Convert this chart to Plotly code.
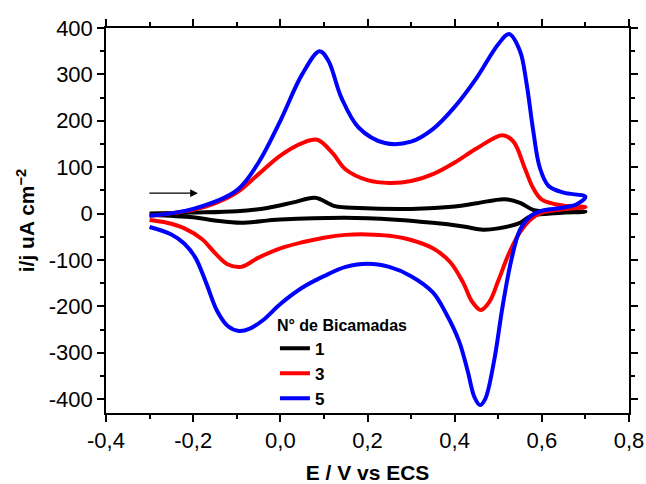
import plotly.graph_objects as go

# Cyclic voltammograms: forward (anodic) branch then reverse branch, closed loop
E1 = [-0.30, -0.20, -0.10, -0.03, 0.03, 0.08, 0.125, 0.18, 0.30, 0.40, 0.45, 0.515, 0.55, 0.58, 0.62, 0.70,
      0.62, 0.575, 0.55, 0.50, 0.465, 0.42, 0.35, 0.20, 0.00, -0.09, -0.15, -0.20, -0.30]
I1 = [0, 2, 5, 12, 24, 34, 16, 12, 10, 15, 22, 31, 23, 8, 4, 4,
      0, -5, -20, -32, -35, -28, -20, -10, -13, -20, -15, -8, -3]

E3 = [-0.30, -0.20, -0.15, -0.10, -0.05, 0.00, 0.05, 0.085, 0.12, 0.15, 0.20, 0.25, 0.30, 0.35, 0.40, 0.45,
      0.51, 0.535, 0.56, 0.58, 0.60, 0.65, 0.70,
      0.65, 0.60, 0.575, 0.55, 0.525, 0.50, 0.48, 0.46, 0.44, 0.42, 0.39, 0.35, 0.30, 0.25, 0.20, 0.15, 0.10,
      0.05, 0.00, -0.05, -0.09, -0.12, -0.15, -0.18, -0.22, -0.26, -0.30]
I3 = [-5, 8, 22, 45, 85, 125, 152, 159, 130, 95, 72, 66, 70, 85, 110, 140,
      169, 155, 100, 55, 30, 17, 14,
      9, 2, -12, -40, -85, -145, -190, -208, -190, -150, -105, -75, -57, -48, -45, -46, -52,
      -62, -75, -95, -115, -110, -85, -55, -32, -20, -14]

E5 = [-0.30, -0.20, -0.10, -0.05, 0.00, 0.05, 0.09, 0.11, 0.14, 0.18, 0.24, 0.30, 0.35, 0.40, 0.45, 0.50,
      0.525, 0.55, 0.565, 0.58, 0.595, 0.615, 0.65, 0.70,
      0.68, 0.65, 0.60, 0.575, 0.55, 0.53, 0.51, 0.49, 0.47, 0.458, 0.445, 0.43, 0.41, 0.38, 0.35, 0.30,
      0.25, 0.20, 0.15, 0.10, 0.05, 0.00, -0.04, -0.07, -0.095, -0.12, -0.145, -0.17, -0.195, -0.22,
      -0.25, -0.30]
I5 = [-5, 10, 50, 110, 200, 300, 350, 330, 250, 185, 152, 155, 182, 230, 292, 365,
      387, 350, 280, 180, 100, 60, 45, 36,
      20, 13, 6, -5, -35, -100, -200, -320, -400, -413, -395, -340, -275, -215, -170, -135,
      -115, -108, -115, -135, -160, -195, -230, -248, -253, -243, -210, -150, -95, -65,
      -45, -29]

x_ticks = [-0.4, -0.2, 0.0, 0.2, 0.4, 0.6, 0.8]
x_labels = ["-0,4", "-0,2", "0,0", "0,2", "0,4", "0,6", "0,8"]
y_ticks = [-400, -300, -200, -100, 0, 100, 200, 300, 400]
y_labels = ["-400", "-300", "-200", "-100", "0", "100", "200", "300", "400"]

series = [("1", E1, I1, "#000000"), ("3", E3, I3, "#ff0000"), ("5", E5, I5, "#0000ff")]

fig = go.Figure()
for name, e, i, c in series:
    fig.add_trace(go.Scatter(x=e, y=i, mode="lines", name="<b>" + name + "</b>",
                             line=dict(color=c, width=4, shape="spline", smoothing=1.0)))

fig.add_annotation(x=-0.189, y=44, ax=-0.304, ay=44, xref="x", yref="y", axref="x", ayref="y",
                   text="", showarrow=True, arrowhead=2, arrowsize=1.2, arrowwidth=1.3, arrowcolor="black")

FONT = "Liberation Sans, Arial"
axis_common = dict(showgrid=False, zeroline=False, showline=True, linecolor="black", linewidth=1.5,
                   mirror="ticks", ticks="outside", ticklen=7, tickwidth=1.5, tickcolor="black",
                   automargin=False,
                   tickfont=dict(family=FONT, size=22, color="black"))

fig.update_xaxes(range=[-0.4, 0.8], tickmode="array", tickvals=x_ticks, ticktext=x_labels,
                 minor=dict(dtick=0.1, tick0=-0.4, ticks="outside", ticklen=4, tickwidth=1.5, tickcolor="black"),
                 title=dict(text="<b>E / V vs ECS</b>", font=dict(family=FONT, size=21, color="black"),
                            standoff=16),
                 **axis_common)
fig.update_yaxes(range=[-430, 400], tickmode="array", tickvals=y_ticks, ticktext=y_labels,
                 minor=dict(dtick=50, tick0=0, ticks="outside", ticklen=4, tickwidth=1.5, tickcolor="black"),
                 title=dict(text="<b>i/j uA cm<sup>−2</sup></b>", font=dict(family=FONT, size=21, color="black"),
                            standoff=8),
                 **axis_common)

fig.update_layout(
    width=646, height=484,
    margin=dict(l=106, r=17, t=28, b=71),
    paper_bgcolor="white", plot_bgcolor="white",
    legend=dict(x=0.323, y=0.268, xanchor="left", yanchor="top", bgcolor="rgba(0,0,0,0)",
                title=dict(text="<b>N° de Bicamadas</b>", font=dict(family=FONT, size=16, color="black")),
                font=dict(family=FONT, size=17, color="black"),
                tracegroupgap=0),
)

fig.write_html("out.html")
